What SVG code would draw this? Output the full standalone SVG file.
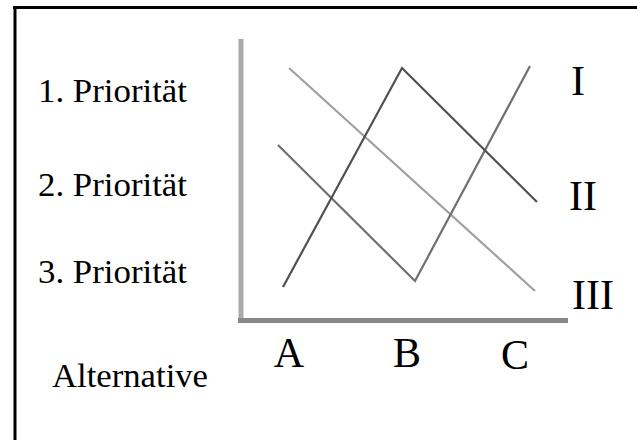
<svg xmlns="http://www.w3.org/2000/svg" width="637" height="440" viewBox="0 0 637 440">
<style>
text{font-family:'Liberation Serif','DejaVu Serif',serif;fill:#000}
.left{font-size:33px}
.big{font-size:42px;text-anchor:middle}
.ln{fill:none;stroke-width:2.2;stroke-linejoin:miter}
</style>
<rect width="637" height="440" fill="#fff"/>
<g id="frame" stroke="#000" stroke-width="3" fill="none">
<line x1="13" y1="7.5" x2="637" y2="7.5"/>
<line x1="15" y1="6" x2="15" y2="440"/>
</g>
<g id="axes">
<line x1="241" y1="39" x2="241" y2="323" stroke="#aaa" stroke-width="5"/>
<line x1="238" y1="320.5" x2="568" y2="320.5" stroke="#888" stroke-width="5"/>
</g>
<g id="connectors">
<polyline class="ln" stroke="#a0a0a0" points="289,68 535,291"/>
<polyline class="ln" stroke="#707070" points="278,145 415,281 530,66"/>
<polyline class="ln" stroke="#505050" points="283,287 402,68 537,202"/>
</g>
<g id="priority-labels" class="left" font-family="Liberation Serif, serif">
<text id="p1" x="38" y="102" textLength="149" lengthAdjust="spacingAndGlyphs">1. Priorität</text>
<text id="p2" x="38" y="196" textLength="149" lengthAdjust="spacingAndGlyphs">2. Priorität</text>
<text id="p3" x="38" y="283" textLength="149" lengthAdjust="spacingAndGlyphs">3. Priorität</text>
<text id="alt" x="52" y="387" textLength="156" lengthAdjust="spacingAndGlyphs">Alternative</text>
</g>
<g id="alt-labels" class="big" font-family="Liberation Serif, serif">
<text id="A" x="289" y="367">A</text>
<text id="B" x="407" y="367">B</text>
<text id="C" x="515" y="369">C</text>
</g>
<g id="line-labels" class="big" font-family="Liberation Serif, serif">
<text id="I" x="578" y="95">I</text>
<text id="II" x="583" y="210">II</text>
<text id="III" x="593" y="309">III</text>
</g>
</svg>
